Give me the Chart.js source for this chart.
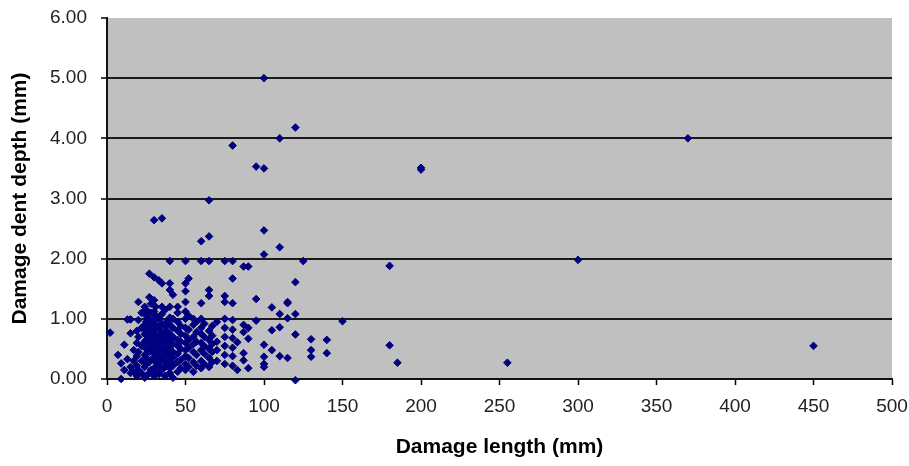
<!DOCTYPE html>
<html>
<head>
<meta charset="utf-8">
<script src="https://cdn.jsdelivr.net/npm/chart.js@4.4.1/dist/chart.umd.min.js"></script>
<style>
  html, body { margin: 0; padding: 0; background: #ffffff; }
  #wrap { width: 909px; height: 466px; }
</style>
</head>
<body>
<div id="wrap"><canvas id="c" width="909" height="466"></canvas></div>
<script>
// Damage length (mm) groups and the dent depths (mm) read at each length
const lengthGroups = [2, 7, 9, 11, 13, 15, 17, 19, 20, 22, 24, 25, 27, 28, 30, 31, 33, 35, 37, 38, 40, 42, 45, 47, 50, 52, 55, 57, 60, 62, 65, 67, 70, 75, 80, 83, 87, 90, 95, 100, 105, 110, 115, 120, 125, 130, 140, 150, 180, 185, 200, 255, 300, 370, 450];
const depthGroups = [
  [0.77],
  [0.40],
  [0.26, 0.00],
  [0.15, 0.57],
  [0.33, 0.99],
  [0.20, 0.76, 0.99, 0.10],
  [0.48, 0.30, 0.12],
  [0.05, 0.22, 0.38, 0.60, 0.80],
  [1.28, 0.98, 0.15, 0.45, 0.70],
  [0.10, 0.30, 0.55, 0.85, 1.10],
  [0.02, 0.20, 0.40, 0.62, 0.90, 1.20, 0.75],
  [0.05, 0.25, 0.35, 0.50, 0.65, 0.80, 0.95, 1.05, 1.15],
  [0.10, 0.28, 0.45, 0.58, 0.72, 0.88, 1.00, 1.36, 1.75],
  [0.15, 0.32, 0.48, 0.62, 0.78, 0.93, 1.10, 1.25],
  [0.05, 0.18, 0.35, 0.42, 0.55, 0.68, 0.82, 0.98, 1.12, 1.31, 1.69, 2.64],
  [0.12, 0.28, 0.40, 0.52, 0.62, 0.75, 0.90, 1.05, 1.20],
  [0.08, 0.22, 0.33, 0.46, 0.58, 0.70, 0.85, 1.00, 1.64],
  [0.15, 0.30, 0.38, 0.50, 0.65, 0.78, 0.92, 1.08, 1.20, 1.59, 2.67],
  [0.05, 0.20, 0.36, 0.48, 0.60, 0.72, 0.88, 1.15],
  [0.25, 0.42, 0.55, 0.68, 0.80, 0.95],
  [0.10, 0.18, 0.30, 0.40, 0.50, 0.62, 0.75, 0.90, 1.02, 1.20, 1.48, 1.59, 1.96],
  [0.02, 0.22, 0.35, 0.45, 0.58, 0.70, 0.85, 1.00, 1.40],
  [0.12, 0.28, 0.42, 0.55, 0.65, 0.80, 0.95, 1.10, 1.20],
  [0.18, 0.32, 0.50, 0.62, 0.75, 0.88],
  [0.15, 0.25, 0.38, 0.48, 0.60, 0.72, 0.85, 1.00, 1.12, 1.28, 1.46, 1.59, 1.96],
  [0.20, 0.35, 0.52, 0.65, 0.82, 1.05, 1.67],
  [0.12, 0.28, 0.45, 0.58, 0.70, 0.90, 1.00],
  [0.22, 0.40, 0.62, 0.78, 0.95],
  [0.18, 0.30, 0.48, 0.60, 0.75, 0.85, 1.00, 1.26, 1.96, 2.29],
  [0.25, 0.42, 0.55, 0.70, 0.92],
  [0.20, 0.35, 0.50, 0.65, 0.80, 1.38, 1.48, 1.96, 2.37, 2.97],
  [0.28, 0.45, 0.58, 0.72, 0.88],
  [0.30, 0.48, 0.62, 0.95],
  [0.25, 0.40, 0.55, 0.70, 0.85, 1.00, 1.28, 1.38, 1.96],
  [0.22, 0.38, 0.52, 0.68, 0.82, 0.98, 1.26, 1.67, 1.96, 3.88],
  [0.15, 0.61],
  [0.31, 0.43, 0.78, 0.90, 1.87],
  [0.18, 0.67, 0.85, 1.87],
  [0.97, 1.33, 3.53],
  [0.20, 0.25, 0.37, 0.57, 2.07, 2.47, 3.50, 5.00],
  [0.48, 0.81, 1.19],
  [0.38, 0.86, 1.08, 2.19, 4.00],
  [0.35, 1.01, 1.26, 1.28],
  [-0.02, 0.74, 1.08, 1.61, 4.18],
  [1.96],
  [0.37, 0.48, 0.66],
  [0.43, 0.65],
  [0.96],
  [0.56, 1.88],
  [0.27],
  [3.48, 3.51],
  [0.27],
  [1.98],
  [4.00],
  [0.55]
];
const xTicks = [0, 50, 100, 150, 200, 250, 300, 350, 400, 450, 500];
const yTicks = [0, 1, 2, 3, 4, 5, 6];

const points = [];
lengthGroups.forEach((len, i) => {
  depthGroups[i].forEach(d => points.push({ x: len, y: d }));
});

const plotBg = {
  id: 'plotBg',
  beforeDraw(chart) {
    const { ctx, chartArea: a } = chart;
    ctx.save();
    ctx.fillStyle = '#c0c0c0';
    ctx.fillRect(a.left, a.top, a.right - a.left, a.bottom - a.top);
    ctx.restore();
  }
};

const FONT = "'Liberation Sans', Arial, sans-serif";

function noPad(s) {
  s.paddingLeft = 0; s.paddingRight = 0; s.paddingTop = 0; s.paddingBottom = 0;
}

new Chart(document.getElementById('c'), {
  type: 'scatter',
  data: {
    datasets: [{
      data: points,
      pointStyle: 'rectRot',
      pointRadius: 3.8,
      pointBackgroundColor: '#000080',
      pointBorderColor: '#000080',
      pointBorderWidth: 1,
      clip: false
    }]
  },
  options: {
    responsive: false,
    animation: false,
    layout: { padding: { top: 18, right: 17, left: 0, bottom: 0 } },
    plugins: { legend: { display: false }, tooltip: { enabled: false } },
    scales: {
      x: {
        type: 'linear',
        min: 0, max: 500,
        afterBuildTicks: s => { s.ticks = xTicks.map(v => ({ value: v })); },
        afterFit: s => { s.height = 466 - 379; noPad(s); },
        ticks: { color: '#222', font: { family: FONT, size: 19 }, padding: 10, maxRotation: 0 },
        grid: { drawOnChartArea: false, drawTicks: true, tickLength: 6, tickColor: '#000', tickWidth: 1.5 },
        border: { display: true, color: '#111', width: 2 },
        title: { display: true, text: 'Damage length (mm)', color: '#000', font: { family: FONT, size: 21, weight: 'bold' }, padding: { top: 16, bottom: 6 } }
      },
      y: {
        type: 'linear',
        min: 0, max: 6,
        afterBuildTicks: s => { s.ticks = yTicks.map(v => ({ value: v })); },
        afterFit: s => { s.width = 107; noPad(s); },
        ticks: { color: '#222', font: { family: FONT, size: 19 }, padding: 14, callback: v => Number(v).toFixed(2) },
        grid: {
          color: c => (c.tick && (c.tick.value === 6 || c.tick.value === 0)) ? 'rgba(0,0,0,0)' : '#1a1a1a',
          lineWidth: 2,
          drawTicks: true, tickLength: 6, tickColor: '#000', tickWidth: 1.5
        },
        border: { display: true, color: '#111', width: 2 },
        title: { display: true, text: 'Damage dent depth (mm)', color: '#000', font: { family: FONT, size: 21, weight: 'bold' }, padding: { top: 8, bottom: 4 } }
      }
    }
  },
  plugins: [plotBg]
});
</script>
</body>
</html>
